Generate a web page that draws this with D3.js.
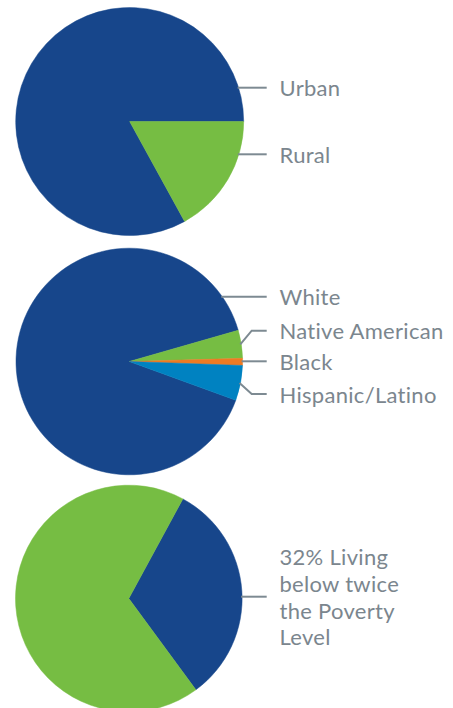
<!DOCTYPE html>
<html>
<head>
<meta charset="utf-8">
<style>
body { margin: 0; background: #fff; }
.label {
  font-family: Lato, "Open Sans", sans-serif;
  font-size: 22px;
  letter-spacing: 0.3px;
  fill: #7b868e;
}
.leader {
  fill: none;
  stroke: #7d8a92;
  stroke-width: 2;
}
</style>
</head>
<body>
<svg width="453" height="708"></svg>
<script src="https://cdn.jsdelivr.net/npm/d3@7"></script>
<script>

// data
var settingNames = ["Urban", "Rural"];
var settingValues = [83, 17];
var settingColors = ["#17468b", "#76bd43"];

var raceNames = ["White", "Native American", "Black", "Hispanic/Latino"];
var raceValues = [90, 4, 1, 5];
var raceColors = ["#17468b", "#76bd43", "#ef7a22", "#0082c1"];

var povertyNames = ["32% Living below twice the Poverty Level", "Other"];
var povertyValues = [32, 68];
var povertyColors = ["#17468b", "#76bd43"];
var povertyLabelLines = ["32% Living", "below twice", "the Poverty", "Level"];

var svg = d3.select("svg");

// layout for each pie: centre, radius, rotation, label rows (offset from centre)
var pies = [
  {names: settingNames, values: settingValues, colors: settingColors,
   cx: 129.7, cy: 121.5, r: 114, start: 151.2,
   labels: [{i: 0, dy: -33.8}, {i: 1, dy: 32.8}]},
  {names: raceNames, values: raceValues, colors: raceColors,
   cx: 129.3, cy: 361.5, r: 113.3, start: 110,
   labels: [{i: 0, dy: -64.8}, {i: 1, dy: -30.8, elbow: true},
            {i: 2, dy: -0.2}, {i: 3, dy: 32.5, elbow: true}]},
  {names: povertyNames, values: povertyValues, colors: povertyColors,
   cx: 128.8, cy: 598.5, r: 113.3, start: 28.5,
   labels: [{i: 0, dy: -1.8, lines: povertyLabelLines}]}
];

var lineEnd = 266.7, elbowX = 251.7, textX = 279.5;

pies.forEach(function(p) {
  var rad = Math.PI / 180;
  var pie = d3.pie().sort(null)
    .startAngle(p.start * rad)
    .endAngle(p.start * rad + 2 * Math.PI);
  var arcs = pie(p.values);

  var arc = d3.arc().innerRadius(0).outerRadius(p.r);
  var edge = d3.arc().innerRadius(p.r - 1).outerRadius(p.r - 1);

  var g = svg.append("g")
    .attr("transform", "translate(" + p.cx + "," + p.cy + ")");

  g.selectAll(".slice")
    .data(arcs)
    .enter().append("path")
    .attr("class", "slice")
    .attr("d", arc)
    .attr("fill", function(d, i) { return p.colors[i]; })
    .attr("stroke", function(d, i) { return p.colors[i]; })
    .attr("stroke-width", 0.5);

  var lbl = g.selectAll(".lbl")
    .data(p.labels)
    .enter().append("g")
    .attr("class", "lbl");

  lbl.append("path")
    .attr("class", "leader")
    .attr("d", function(d) {
      if (d.elbow) {
        var c = edge.centroid(arcs[d.i]);
        return "M" + c[0] + "," + c[1] +
          "L" + (elbowX - p.cx) + "," + d.dy +
          "L" + (lineEnd - p.cx) + "," + d.dy;
      }
      var x0 = Math.sqrt(p.r * p.r - d.dy * d.dy) - 1;
      return "M" + x0 + "," + d.dy + "L" + (lineEnd - p.cx) + "," + d.dy;
    });

  var txt = lbl.append("text")
    .attr("class", "label")
    .attr("x", textX - p.cx);

  txt.each(function(d) {
    var t = d3.select(this);
    var rows = d.lines || [p.names[d.i]];
    var top = d.dy + 8.5 - (rows.length - 1) * 26.7 / 2;
    rows.forEach(function(s, k) {
      t.append("tspan")
        .attr("x", textX - p.cx)
        .attr("y", top + k * 26.7)
        .text(s);
    });
  });
});

</script>
</body>
</html>
